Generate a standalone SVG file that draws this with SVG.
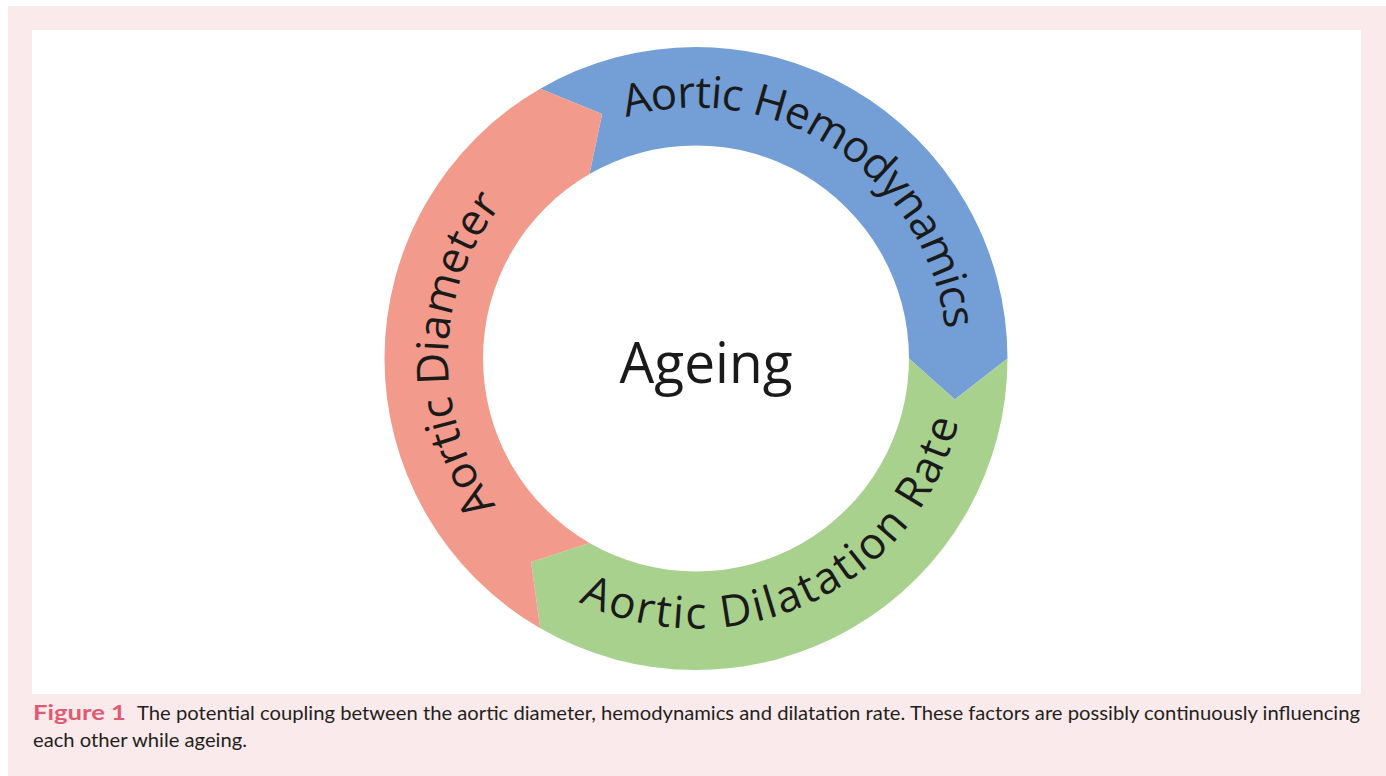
<svg xmlns="http://www.w3.org/2000/svg" width="1386" height="776" viewBox="0 0 1386 776">
  <style>
    .ring-text { font-family: "Open Sans", "Noto Sans", sans-serif; font-size: 44px; fill: #1a1a1a; }
    .center-text { font-family: "Open Sans", "Noto Sans", sans-serif; font-size: 57px; fill: #1a1a1a; }
    .cap { font-family: Lato, "Noto Sans", sans-serif; font-size: 20px; fill: #231f20; }
    .cap-label { font-family: Lato, "Noto Sans", sans-serif; font-size: 20px; font-weight: bold; fill: #e05a72; }
  </style>
  <defs>
    <path id="arc-hemo" d="M 547.06 156.47 A 251 251 0 0 1 939.96 417.52"/>
    <path id="arc-diam" d="M 607.12 590.03 A 248 248 0 0 1 615.26 124.01"/>
    <path id="arc-dila" d="M 506.42 550.75 A 270 270 0 0 0 964.8 333.09"/>
  </defs>

  <rect x="8" y="6" width="1378" height="770" fill="#fbeaeb"/>
  <rect x="32" y="30" width="1329" height="664" fill="#ffffff"/>

  <g id="connectors"></g>

  <g id="node-hemodynamics">
    <path d="M 540.25 88.73 A 311.5 311.5 0 0 1 1007.5 358.5 L 954.77 399.49 L 909 358.5 A 213 213 0 0 0 589.5 174.04 L 602.11 113.9 Z" fill="#739fd6"/>
    <text class="ring-text"><textPath href="#arc-hemo" startOffset="50%" text-anchor="middle" textLength="436" lengthAdjust="spacing">Aortic Hemodynamics</textPath></text>
  </g>

  <g id="node-dilatation">
    <path d="M 1007.5 358.5 A 311.5 311.5 0 0 1 540.25 628.27 L 531.12 562.11 L 589.5 542.96 A 213 213 0 0 0 909 358.5 L 954.77 399.49 Z" fill="#a9d18e"/>
    <text class="ring-text"><textPath href="#arc-dila" startOffset="50%" text-anchor="middle" textLength="482" lengthAdjust="spacing">Aortic Dilatation Rate</textPath></text>
  </g>

  <g id="node-diameter">
    <path d="M 540.25 628.27 A 311.5 311.5 0 0 1 540.25 88.73 L 602.11 113.9 L 589.5 174.04 A 213 213 0 0 0 589.5 542.96 L 531.12 562.11 Z" fill="#f29a8b"/>
    <text class="ring-text"><textPath href="#arc-diam" startOffset="50%" text-anchor="middle" textLength="323" lengthAdjust="spacing">Aortic Diameter</textPath></text>
  </g>

  <g id="node-ageing">
    <text class="center-text" x="706" y="383" text-anchor="middle" textLength="173" lengthAdjust="spacingAndGlyphs">Ageing</text>
  </g>

  <g id="caption">
    <text class="cap-label" x="33" y="720" textLength="93" lengthAdjust="spacingAndGlyphs">Figure 1</text>
    <text class="cap" x="137" y="720" textLength="1223" lengthAdjust="spacingAndGlyphs">The potential coupling between the aortic diameter, hemodynamics and dilatation rate. These factors are possibly continuously influencing</text>
    <text class="cap" x="33" y="747" textLength="214" lengthAdjust="spacingAndGlyphs">each other while ageing.</text>
  </g>
</svg>
